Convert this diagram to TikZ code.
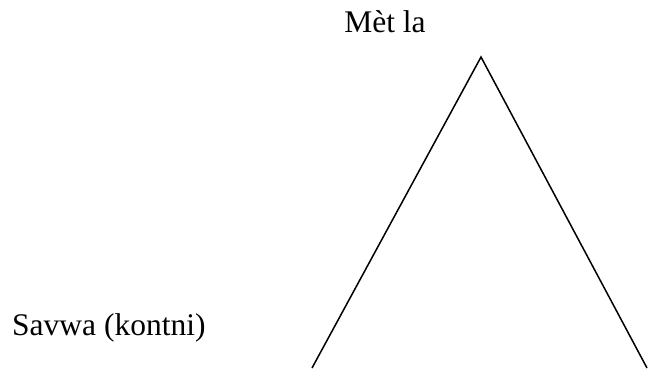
\documentclass[tikz,border=0pt]{standalone}
\usepackage{fontspec}
\setmainfont{Liberation Serif}
\begin{document}
\begin{tikzpicture}[x=1pt,y=-1pt,font=\fontsize{31.5}{36}\selectfont]
  % 画布
  \useasboundingbox (0,0) rectangle (648,368);

  % 标签
  \node[anchor=base,inner sep=0] (met) at (385,32) {Mèt la};
  \node[anchor=base west,inner sep=0] (savwa) at (12,335) {Savwa (kontni)};

  % 三角形
  \coordinate (apex) at (481,57);
  \coordinate (left) at (312,368);
  \coordinate (right) at (647,368);
  \draw[line width=1.5pt] (left) -- (apex) -- (right);
\end{tikzpicture}
\end{document}
